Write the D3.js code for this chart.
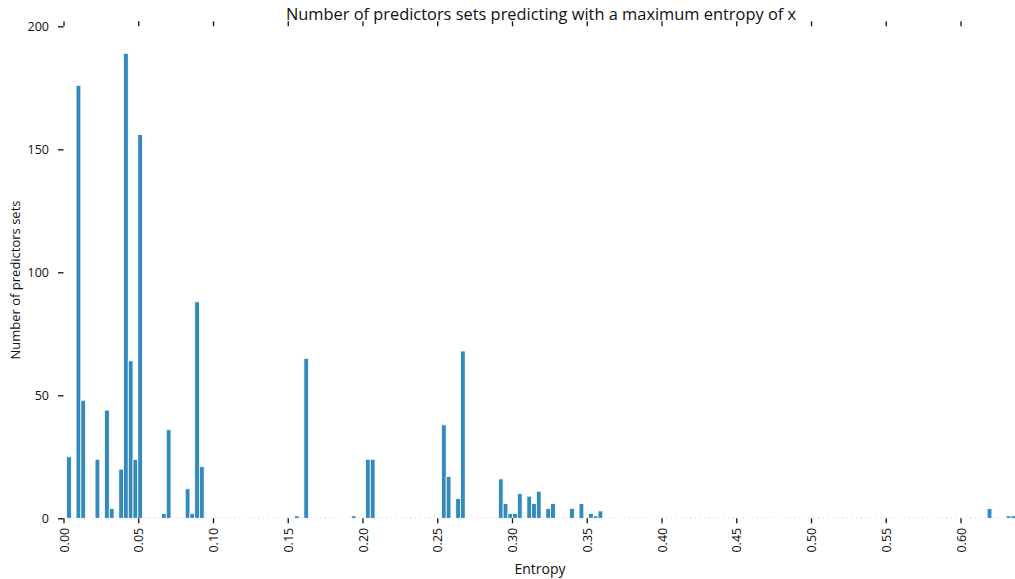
<!DOCTYPE html>
<html>
<head>
<meta charset="utf-8">
<script src="https://cdn.jsdelivr.net/npm/d3@7"></script>
<style>
  html, body { margin: 0; padding: 0; background: #fff; }
  svg { display: block; }
  text { font-family: "Open Sans", "DejaVu Sans", sans-serif; fill: #111; }
</style>
</head>
<body>
<svg id="chart" width="1015" height="579"></svg>
<script>
// ---- data ----
const titleText = "Number of predictors sets predicting with a maximum entropy of x";
const xLabel = "Entropy";
const yLabel = "Number of predictors sets";
// histogram: 200 equal bins starting at binStart with width binWidth
const binStart = 0.00207;
const binWidth = 0.003174;
const counts = [
  25, 0, 176, 48, 0, 0, 24, 0, 44, 4,
  0, 20, 189, 64, 24, 156, 0, 0, 0, 0,
  2, 36, 0, 0, 0, 12, 2, 88, 21, 0,
  0, 0, 0, 0, 0, 0, 0, 0, 0, 0,
  0, 0, 0, 0, 0, 0, 0, 0, 1, 0,
  65, 0, 0, 0, 0, 0, 0, 0, 0, 0,
  1, 0, 0, 24, 24, 0, 0, 0, 0, 0,
  0, 0, 0, 0, 0, 0, 0, 0, 0, 38,
  17, 0, 8, 68, 0, 0, 0, 0, 0, 0,
  0, 16, 6, 2, 2, 10, 0, 9, 6, 11,
  0, 4, 6, 0, 0, 0, 4, 0, 6, 0,
  2, 1, 3, 0, 0, 0, 0, 0, 0, 0,
  0, 0, 0, 0, 0, 0, 0, 0, 0, 0,
  0, 0, 0, 0, 0, 0, 0, 0, 0, 0,
  0, 0, 0, 0, 0, 0, 0, 0, 0, 0,
  0, 0, 0, 0, 0, 0, 0, 0, 0, 0,
  0, 0, 0, 0, 0, 0, 0, 0, 0, 0,
  0, 0, 0, 0, 0, 0, 0, 0, 0, 0,
  0, 0, 0, 0, 0, 0, 0, 0, 0, 0,
  0, 0, 0, 0, 4, 0, 0, 0, 1, 1
];
const xTicks = [0, 0.05, 0.10, 0.15, 0.20, 0.25, 0.30, 0.35, 0.40, 0.45, 0.50, 0.55, 0.60];
const yTicks = [0, 50, 100, 150, 200];

// ---- layout ----
const svg = d3.select("#chart");
const mLeft = 63.5, mRight = 1015, mTop = 26.3, mBottom = 518.3;
const xMax = 0.63645;

const x = d3.scaleLinear().domain([0, xMax]).range([mLeft, mRight]);
const y = d3.scaleLinear().domain([0, 200]).range([mBottom, mTop]);

const bins = counts.map((c, i) => ({ x0: binStart + i * binWidth, x1: binStart + (i + 1) * binWidth, c }));

// faint baseline traces of empty bins
svg.append("g").selectAll("rect.zero")
  .data(bins.filter(b => b.c === 0))
  .join("rect")
  .attr("x", d => x((d.x0 + d.x1) / 2) - 0.5)
  .attr("y", y(0) - 1)
  .attr("width", 1)
  .attr("height", 1)
  .attr("fill", "#348ABD")
  .attr("opacity", 0.3);

// bars
svg.append("g").selectAll("rect.bar")
  .data(bins.filter(b => b.c > 0))
  .join("rect")
  .attr("class", "bar")
  .attr("x", d => x(d.x0))
  .attr("y", d => y(d.c))
  .attr("width", d => x(d.x1) - x(d.x0))
  .attr("height", d => y(0) - y(d.c))
  .attr("fill", "#348ABD")
  .attr("stroke", "#ffffff")
  .attr("stroke-width", 0.8);

// axes
const fmt = d3.format(".2f");
const gx = svg.append("g").attr("transform", `translate(0,${mBottom})`)
  .call(d3.axisBottom(x).tickValues(xTicks).tickSize(5).tickPadding(0).tickFormat(fmt));
gx.select(".domain").remove();
gx.selectAll("line").attr("stroke", "#111").attr("stroke-width", 1.3);
gx.selectAll("text")
  .attr("font-size", 12.5)
  .attr("text-anchor", "end")
  .attr("transform", "translate(0,9.5) rotate(-90)")
  .attr("x", 0)
  .attr("y", 0)
  .attr("dy", "0.36em");

const gxt = svg.append("g").attr("transform", `translate(0,${mTop})`)
  .call(d3.axisTop(x).tickValues(xTicks).tickSize(5).tickFormat(""));
gxt.select(".domain").remove();
gxt.selectAll("line").attr("stroke", "#111").attr("stroke-width", 1.3);

const gy = svg.append("g").attr("transform", `translate(${mLeft},0)`)
  .call(d3.axisLeft(y).tickValues(yTicks).tickSize(5.5).tickPadding(9));
gy.select(".domain").remove();
gy.selectAll("line").attr("stroke", "#111").attr("stroke-width", 1.3);
gy.selectAll("text").attr("font-size", 12.5);

// title and labels
svg.append("text")
  .attr("x", 541).attr("y", 20)
  .attr("text-anchor", "middle")
  .attr("font-size", 16.4)
  .text(titleText);

svg.append("text")
  .attr("x", 540).attr("y", 574)
  .attr("text-anchor", "middle")
  .attr("font-size", 14)
  .text(xLabel);

svg.append("text")
  .attr("transform", "translate(20,280) rotate(-90)")
  .attr("text-anchor", "middle")
  .attr("font-size", 13)
  .text(yLabel);
</script>
</body>
</html>
